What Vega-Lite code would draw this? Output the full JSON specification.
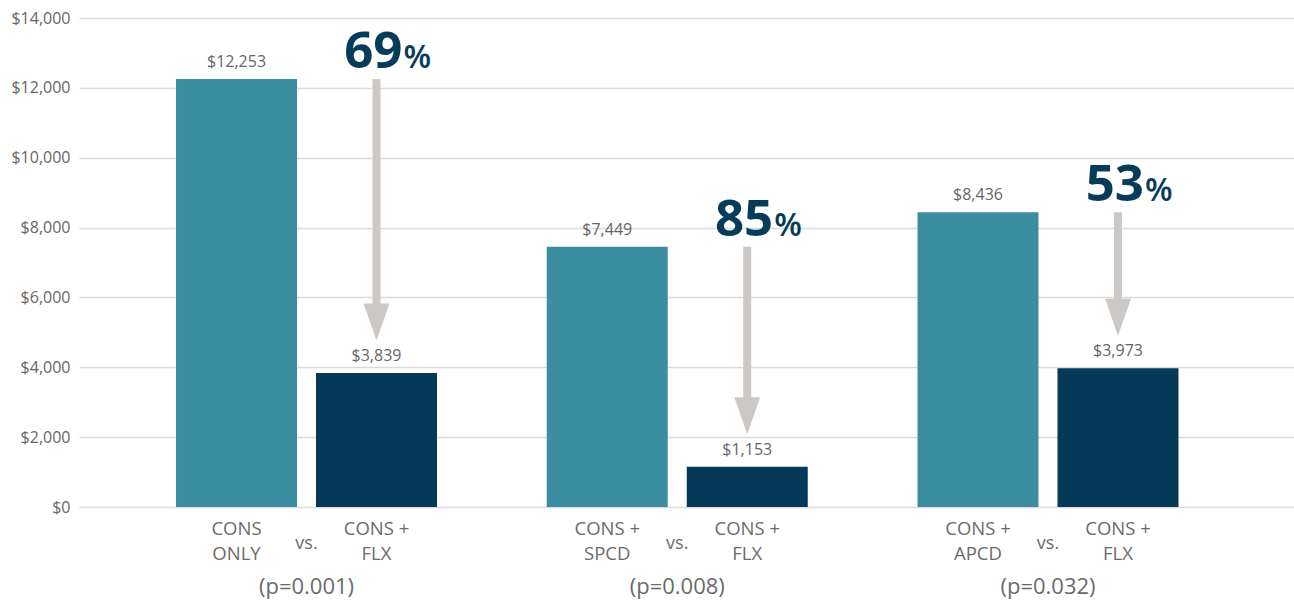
{
  "$schema": "https://vega.github.io/schema/vega-lite/v6.json",
  "width": 1215,
  "height": 489,
  "autosize": {"type": "none"},
  "padding": {"left": 79, "top": 18, "right": 0, "bottom": 94},
  "background": "white",
  "config": {
    "view": {"stroke": null},
    "axisY": {
      "domain": false,
      "ticks": false,
      "gridColor": "#DADADA",
      "gridWidth": 1.5,
      "labelFont": "Open Sans",
      "labelFontSize": 16,
      "labelColor": "#666666",
      "labelPadding": 9
    },
    "text": {"font": "Open Sans"}
  },
  "datasets": {
    "bars": [
      {"group": "A", "cond": "control", "line1": "CONS", "line2": "ONLY", "value": 12253},
      {"group": "A", "cond": "flx", "line1": "CONS +", "line2": "FLX", "value": 3839},
      {"group": "B", "cond": "control", "line1": "CONS +", "line2": "SPCD", "value": 7449},
      {"group": "B", "cond": "flx", "line1": "CONS +", "line2": "FLX", "value": 1153},
      {"group": "C", "cond": "control", "line1": "CONS +", "line2": "APCD", "value": 8436},
      {"group": "C", "cond": "flx", "line1": "CONS +", "line2": "FLX", "value": 3973}
    ],
    "groups": [
      {"group": "A", "cond": "flx", "from": 12253, "to": 3839, "pct": 69, "p": "(p=0.001)"},
      {"group": "B", "cond": "flx", "from": 7449, "to": 1153, "pct": 85, "p": "(p=0.008)"},
      {"group": "C", "cond": "flx", "from": 8436, "to": 3973, "pct": 53, "p": "(p=0.032)"}
    ]
  },
  "encoding": {
    "x": {
      "field": "group",
      "type": "nominal",
      "axis": null,
      "sort": ["A", "B", "C"],
      "scale": {"paddingInner": 0, "paddingOuter": 0.1386, "align": 0.41}
    }
  },
  "layer": [
    {
      "data": {"name": "bars"},
      "mark": {"type": "bar"},
      "encoding": {
        "xOffset": {"field": "cond", "type": "nominal", "sort": ["control", "flx"], "scale": {"domain": ["control", "flx"], "paddingInner": 0.1357, "paddingOuter": 0.392}},
        "y": {
          "field": "value",
          "type": "quantitative",
          "title": null,
          "scale": {"domain": [0, 14000], "nice": false},
          "axis": {"values": [0, 2000, 4000, 6000, 8000, 10000, 12000, 14000], "format": "$,d", "title": null}
        },
        "color": {"field": "cond", "type": "nominal", "legend": null, "scale": {"domain": ["control", "flx"], "range": ["#3B8EA0", "#053957"]}}
      }
    },
    {
      "data": {"name": "bars"},
      "mark": {"type": "text", "baseline": "alphabetic", "dy": -12, "fontSize": 16, "color": "#666666"},
      "encoding": {
        "xOffset": {"field": "cond", "type": "nominal", "sort": ["control", "flx"], "scale": {"domain": ["control", "flx"], "paddingInner": 0.1357, "paddingOuter": 0.392}},
        "y": {"field": "value", "type": "quantitative", "title": null},
        "text": {"field": "value", "type": "quantitative", "format": "$,d"}
      }
    },
    {
      "data": {"name": "bars"},
      "mark": {"type": "text", "baseline": "alphabetic", "dy": 28, "fontSize": 18.5, "color": "#6B6B6B"},
      "encoding": {
        "xOffset": {"field": "cond", "type": "nominal", "sort": ["control", "flx"], "scale": {"domain": ["control", "flx"], "paddingInner": 0.1357, "paddingOuter": 0.392}},
        "y": {"datum": 0, "type": "quantitative", "title": null},
        "text": {"field": "line1", "type": "nominal"}
      }
    },
    {
      "data": {"name": "bars"},
      "mark": {"type": "text", "baseline": "alphabetic", "dy": 53, "fontSize": 18.5, "color": "#6B6B6B"},
      "encoding": {
        "xOffset": {"field": "cond", "type": "nominal", "sort": ["control", "flx"], "scale": {"domain": ["control", "flx"], "paddingInner": 0.1357, "paddingOuter": 0.392}},
        "y": {"datum": 0, "type": "quantitative", "title": null},
        "text": {"field": "line2", "type": "nominal"}
      }
    },
    {
      "data": {"name": "groups"},
      "mark": {"type": "rule", "strokeWidth": 8, "strokeCap": "butt", "color": "#CBC8C5", "y2Offset": -66},
      "encoding": {
        "xOffset": {"field": "cond", "type": "nominal", "sort": ["control", "flx"], "scale": {"domain": ["control", "flx"], "paddingInner": 0.1357, "paddingOuter": 0.392}},
        "y": {"field": "from", "type": "quantitative", "title": null},
        "y2": {"field": "to"}
      }
    },
    {
      "data": {"name": "groups"},
      "mark": {"type": "point", "shape": "M-0.7,-1L0.7,-1L0,1Z", "size": 1369, "filled": true, "opacity": 1, "color": "#CBC8C5", "strokeWidth": 0, "yOffset": -51},
      "encoding": {
        "xOffset": {"field": "cond", "type": "nominal", "sort": ["control", "flx"], "scale": {"domain": ["control", "flx"], "paddingInner": 0.1357, "paddingOuter": 0.392}},
        "y": {"field": "to", "type": "quantitative", "title": null}
      }
    },
    {
      "data": {"name": "groups"},
      "mark": {"type": "text", "align": "right", "baseline": "alphabetic", "dx": 26, "dy": -11, "fontSize": 51, "fontWeight": "bold", "color": "#073B5A"},
      "encoding": {
        "xOffset": {"field": "cond", "type": "nominal", "sort": ["control", "flx"], "scale": {"domain": ["control", "flx"], "paddingInner": 0.1357, "paddingOuter": 0.392}},
        "y": {"field": "from", "type": "quantitative", "title": null},
        "text": {"field": "pct", "type": "quantitative"}
      }
    },
    {
      "data": {"name": "groups"},
      "mark": {"type": "text", "align": "left", "baseline": "alphabetic", "dx": 27, "dy": -11, "fontSize": 32, "fontWeight": 600, "color": "#073B5A", "text": "%"},
      "encoding": {
        "xOffset": {"field": "cond", "type": "nominal", "sort": ["control", "flx"], "scale": {"domain": ["control", "flx"], "paddingInner": 0.1357, "paddingOuter": 0.392}},
        "y": {"field": "from", "type": "quantitative", "title": null}
      }
    },
    {
      "data": {"name": "groups"},
      "mark": {"type": "text", "baseline": "alphabetic", "dy": 42, "fontSize": 18, "color": "#6B6B6B", "text": "vs."},
      "encoding": {
        "y": {"datum": 0, "type": "quantitative", "title": null}
      }
    },
    {
      "data": {"name": "groups"},
      "mark": {"type": "text", "baseline": "alphabetic", "dy": 87, "fontSize": 22, "color": "#6B6B6B"},
      "encoding": {
        "y": {"datum": 0, "type": "quantitative", "title": null},
        "text": {"field": "p", "type": "nominal"}
      }
    }
  ]
}
